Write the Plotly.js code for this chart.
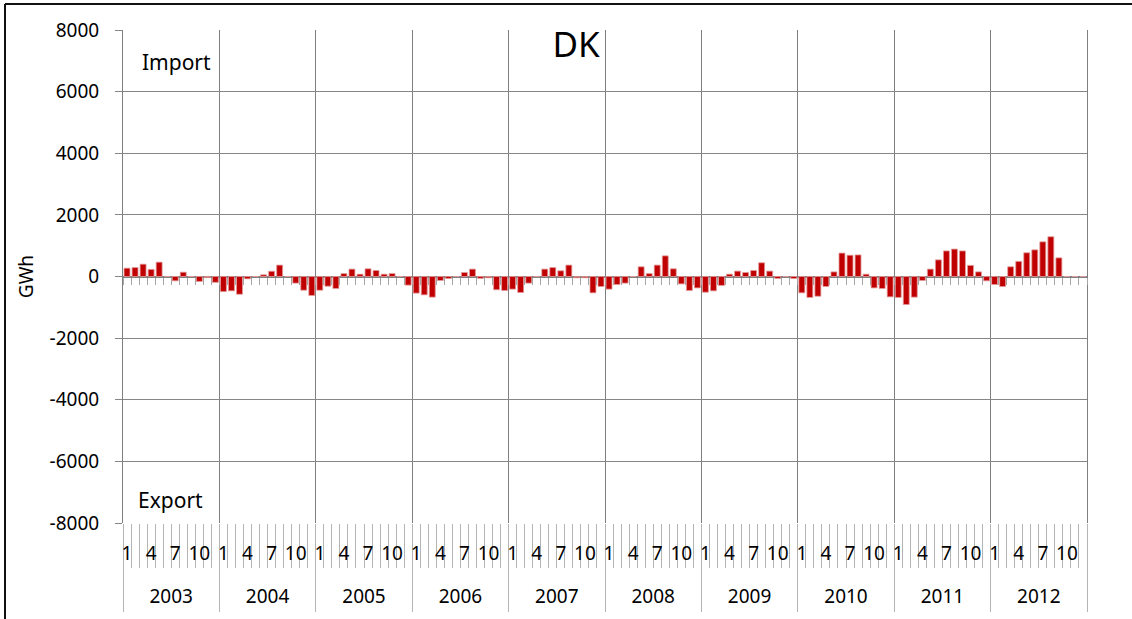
<!DOCTYPE html>
<html>
<head>
<meta charset="utf-8">
<script src="https://cdn.plot.ly/plotly-3.0.1.min.js"></script>
<style>
  html, body { margin: 0; padding: 0; background: #fff; overflow: hidden; }
  #chart { width: 1132px; height: 619px; }
</style>
</head>
<body>
<div id="chart"></div>
<script>
// ---- data (GWh, net import positive / export negative) ----
const years = ['2003','2004','2005','2006','2007','2008','2009','2010','2011','2012'];
const monthNames = ['1','2','3','4','5','6','7','8','9','10','11','12'];
const labelledMonths = ['1','4','7','10'];

const v2003 = [270, 290, 400, 230, 465, 0, -140, 140, 0, -160, -35, -190];
const v2004 = [-490, -465, -575, -75, 0, 55, 170, 370, 0, -215, -445, -615];
const v2005 = [-445, -315, -390, 95, 240, 75, 250, 195, 75, 95, 0, -280];
const v2006 = [-540, -595, -670, -130, -65, 0, 130, 240, -60, -40, -430, -455];
const v2007 = [-410, -520, -215, 0, 240, 290, 185, 370, -40, -40, -530, -325];
const v2008 = [-410, -260, -215, 0, 315, 95, 370, 670, 250, -240, -455, -370];
const v2009 = [-510, -465, -290, 75, 175, 130, 195, 445, 175, -65, 0, -65];
const v2010 = [-530, -680, -640, -325, 150, 760, 690, 700, 75, -370, -390, -660];
const v2011 = [-680, -910, -670, -130, 240, 540, 830, 890, 830, 360, 150, -140];
const v2012 = [-260, -325, 315, 490, 770, 865, 1125, 1290, 605, 0, 0, 0];

const seriesByYear = [v2003, v2004, v2005, v2006, v2007, v2008, v2009, v2010, v2011, v2012];

// ---- build positions from the data ----
const xs = [], ys = [], hover = [];
seriesByYear.forEach((arr, yi) => {
  arr.forEach((v, mi) => {
    xs.push(yi * monthNames.length + mi);
    ys.push(v);
    hover.push(years[yi] + '-' + monthNames[mi]);
  });
});
const nMonths = xs.length;
const xRange = [-0.5, nMonths - 0.5];

const monthBoundaries = [];
for (let i = 0; i <= nMonths; i++) monthBoundaries.push(i - 0.5);
const yearBoundaries = [];
for (let i = 0; i <= years.length; i++) yearBoundaries.push(i * 12 - 0.5);
const yearCenters = years.map((_, i) => i * 12 + 5.5);
const monthLabelVals = [], monthLabelText = [];
xs.forEach((x) => {
  const m = monthNames[x % 12];
  if (labelledMonths.includes(m)) { monthLabelVals.push(x); monthLabelText.push(m); }
});

const FONT = 'Noto Sans, Open Sans, DejaVu Sans, sans-serif';
const GRID = '#868686';
const VGRID = '#7f7f7f';
const LIGHT = '#b4b4b4';

const barTrace = {
  type: 'bar', x: xs, y: ys, hovertext: hover, hoverinfo: 'text+y',
  width: 0.74, textposition: 'none',
  marker: { color: '#C00000', line: { color: '#E39A9A', width: 0.8 } },
  showlegend: false
};
// empty helper traces so that the extra (label/tick) axes get drawn
const axisHelpers = ['x2', 'x3', 'x4', 'x5'].map(ax => ({
  type: 'scatter', mode: 'none', x: [], y: [], xaxis: ax, yaxis: 'y',
  hoverinfo: 'skip', showlegend: false
}));

const baseX = { range: xRange, type: 'linear', zeroline: false, showline: false, fixedrange: true, showgrid: false };

// outer frame (left and top edges of the picture)
const fx = (5 - 123) / 964, fyTop = (523 - 4) / 493, fyBot = (523 - 660) / 493, fxRight = (1160 - 123) / 964;

const layout = {
  width: 1132, height: 619,
  margin: { l: 123, r: 45, t: 30, b: 96, pad: 0 },
  paper_bgcolor: '#fff', plot_bgcolor: '#fff',
  font: { family: FONT, size: 19, color: '#000' },
  bargap: 0,
  title: { text: 'DK', font: { family: FONT, size: 35, color: '#000' },
           x: 576 / 1132, xanchor: 'center', y: 1 - 45 / 619, yanchor: 'middle' },
  yaxis: {
    range: [-8000, 8000], tickmode: 'array',
    tickvals: [-8000, -6000, -4000, -2000, 0, 2000, 4000, 6000, 8000],
    ticktext: ['-8000', '-6000', '-4000', '-2000', '0', '2000', '4000', '6000', '8000'],
    showgrid: true, gridcolor: GRID, gridwidth: 1,
    zeroline: true, zerolinecolor: '#808080', zerolinewidth: 2,
    ticks: 'outside', ticklen: 7, tickcolor: GRID, tickwidth: 1,
    ticklabelstandoff: 12,
    showline: true, mirror: true, linecolor: VGRID, linewidth: 1,
    tickfont: { family: FONT, size: 19, color: '#000' },
    title: { text: 'GWh', font: { family: FONT, size: 19, color: '#000' }, standoff: 10 },
    fixedrange: true
  },
  xaxis: Object.assign({}, baseX, {
    anchor: 'y', tickmode: 'array', tickvals: yearBoundaries,
    showgrid: true, gridcolor: VGRID, gridwidth: 1,
    ticks: 'outside', ticklen: 88, tickcolor: LIGHT, tickwidth: 1,
    showticklabels: false
  }),
  xaxis2: Object.assign({}, baseX, {
    overlaying: 'x', anchor: 'free', position: 0, side: 'bottom',
    tickmode: 'array', tickvals: monthBoundaries,
    ticks: 'outside', ticklen: 44, tickcolor: LIGHT, tickwidth: 1,
    showticklabels: false
  }),
  xaxis3: Object.assign({}, baseX, {
    overlaying: 'x', anchor: 'free', position: 0, side: 'bottom',
    tickmode: 'array', tickvals: monthLabelVals, ticktext: monthLabelText,
    ticks: 'outside', ticklen: 13, tickcolor: 'rgba(0,0,0,0)',
    tickfont: { family: FONT, size: 19, color: '#000' }
  }),
  xaxis4: Object.assign({}, baseX, {
    overlaying: 'x', anchor: 'free', position: 0, side: 'bottom',
    tickmode: 'array', tickvals: yearCenters, ticktext: years,
    ticks: 'outside', ticklen: 56, tickcolor: 'rgba(0,0,0,0)',
    tickfont: { family: FONT, size: 19, color: '#000' }
  }),
  xaxis5: Object.assign({}, baseX, {
    overlaying: 'x', anchor: 'free', position: 0.5, side: 'bottom',
    tickmode: 'array', tickvals: monthBoundaries,
    ticks: 'outside', ticklen: 7, tickcolor: '#a6a6a6', tickwidth: 1,
    showticklabels: false
  }),
  shapes: [
    { type: 'line', xref: 'paper', yref: 'paper', x0: fx, x1: fx, y0: fyTop, y1: fyBot,
      line: { color: '#111', width: 2 }, layer: 'above' },
    { type: 'line', xref: 'paper', yref: 'paper', x0: fx, x1: fxRight, y0: fyTop, y1: fyTop,
      line: { color: '#111', width: 2 }, layer: 'above' }
  ],
  annotations: [
    { text: 'Import', xref: 'paper', yref: 'paper', x: (176 - 123) / 964, y: (523 - 62) / 493,
      xanchor: 'center', yanchor: 'middle', showarrow: false,
      font: { family: FONT, size: 21, color: '#000' } },
    { text: 'Export', xref: 'paper', yref: 'paper', x: (170 - 123) / 964, y: (523 - 500) / 493,
      xanchor: 'center', yanchor: 'middle', showarrow: false,
      font: { family: FONT, size: 21, color: '#000' } }
  ]
};

Plotly.newPlot('chart', [barTrace].concat(axisHelpers), layout, { displayModeBar: false, staticPlot: true });
</script>
</body>
</html>
